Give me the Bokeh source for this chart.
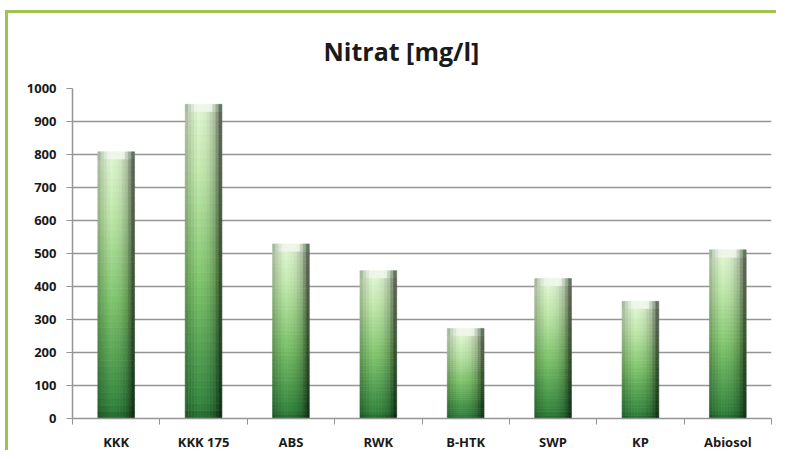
import numpy as np
from bokeh.plotting import figure
from bokeh.models import ColumnDataSource, FixedTicker, Range1d, CustomJSTickFormatter
from bokeh.embed import file_html
from bokeh.resources import INLINE

categories = ["KKK", "KKK 175", "ABS", "RWK", "B-HTK", "SWP", "KP", "Abiosol"]
values = [808, 952, 529, 448, 273, 424, 355, 511]
y_ticks = [0, 100, 200, 300, 400, 500, 600, 700, 800, 900, 1000]
title_text = "Nitrat [mg/l]"

BAR_W = 0.42
N_ROWS = 40
N_COLS = 12
BEVEL = 22  # data units of top bevel band

# vertical colour stops (t: 0 bottom -> 1 top)
v_stops_t = [0.0, 0.05, 0.45, 0.8, 1.0]
v_stops_c = np.array([(36, 98, 44), (50, 128, 60), (122, 188, 104), (185, 222, 165), (212, 234, 198)], dtype=float)
# horizontal brightness (s: 0 left -> 1 right)
h_stops_s = [0.0, 0.12, 0.35, 0.6, 0.8, 0.92, 1.0]
h_stops_m = [0.78, 0.9, 1.06, 1.0, 0.82, 0.55, 0.32]
# bevel band brightness
b_stops_s = [0.0, 0.15, 0.3, 0.7, 0.85, 1.0]
b_stops_c = np.array([(150, 170, 145), (205, 222, 198), (238, 246, 232), (238, 246, 232), (170, 188, 162), (70, 90, 68)], dtype=float)


def colour(t, s):
    base = np.array([np.interp(t, v_stops_t, v_stops_c[:, k]) for k in range(3)])
    m = np.interp(s, h_stops_s, h_stops_m)
    c = np.clip(base * m, 0, 255).astype(int)
    return "#%02x%02x%02x" % tuple(c)


def bevel_colour(s):
    c = np.array([np.interp(s, b_stops_s, b_stops_c[:, k]) for k in range(3)]).astype(int)
    return "#%02x%02x%02x" % tuple(c)


left, right, bottom, top, fill = [], [], [], [], []
for i, v in enumerate(values):
    cx = i + 0.5
    x0 = cx - BAR_W / 2
    body_top = v - BEVEL
    for r in range(N_ROWS):
        b = body_top * r / N_ROWS
        tp = body_top * (r + 1) / N_ROWS
        t = (r + 0.5) / N_ROWS
        for c in range(N_COLS):
            s = (c + 0.5) / N_COLS
            left.append(x0 + BAR_W * c / N_COLS)
            right.append(x0 + BAR_W * (c + 1) / N_COLS)
            bottom.append(b)
            top.append(tp)
            fill.append(colour(t, s))
    for c in range(N_COLS):
        s = (c + 0.5) / N_COLS
        left.append(x0 + BAR_W * c / N_COLS)
        right.append(x0 + BAR_W * (c + 1) / N_COLS)
        bottom.append(body_top)
        top.append(v)
        fill.append(bevel_colour(s))

src = ColumnDataSource(dict(left=left, right=right, bottom=bottom, top=top, fill=fill))

p = figure(width=771, height=440, output_backend="svg", toolbar_location=None,
           x_range=Range1d(0, len(categories)), y_range=Range1d(0, 1000),
           title=title_text, min_border_left=64, min_border_right=8,
           min_border_top=75, min_border_bottom=33)
p.styles = {"border-top": "3px solid #9dc44f", "border-left": "3px solid #9dc44f",
            "margin-top": "10px", "margin-left": "5px"}

p.quad(left="left", right="right", bottom="bottom", top="top", fill_color="fill",
       line_color="fill", line_width=0.6, source=src)

p.title.text_font = "Open Sans"
p.title.text_font_style = "bold"
p.title.text_font_size = "25px"
p.title.text_color = "#1a1a1a"
p.title.align = "left"
p.title.offset = 251
p.title.vertical_align = "top"
p.title.standoff = 38

p.outline_line_color = None
p.xgrid.visible = False
p.ygrid.grid_line_color = "#959595"
p.ygrid.grid_line_width = 1.5

p.yaxis.ticker = FixedTicker(ticks=y_ticks)
p.yaxis.axis_line_color = "#959595"
p.yaxis.axis_line_width = 1.5
p.yaxis.major_tick_line_color = "#959595"
p.yaxis.major_tick_out = 6
p.yaxis.major_tick_in = 0
p.yaxis.minor_tick_line_color = None
p.yaxis.major_label_standoff = 10

p.xaxis.ticker = FixedTicker(ticks=[i + 0.5 for i in range(len(categories))],
                             minor_ticks=list(range(len(categories) + 1)))
p.xaxis.formatter = CustomJSTickFormatter(args=dict(labels=categories), code="""
const i = Math.floor(tick);
if (i >= 0 && i < labels.length && Math.abs(tick - i - 0.5) < 1e-6) { return labels[i]; }
return "";
""")
p.xaxis.axis_line_color = "#959595"
p.xaxis.axis_line_width = 1.5
p.xaxis.major_tick_line_color = None
p.xaxis.major_tick_out = 6
p.xaxis.minor_tick_line_color = "#959595"
p.xaxis.minor_tick_out = 6
p.xaxis.minor_tick_in = 0
p.xaxis.major_label_standoff = 8

for ax in (p.xaxis, p.yaxis):
    ax.major_label_text_font = "Open Sans"
    ax.major_label_text_font_style = "bold"
    ax.major_label_text_font_size = "13px"
    ax.major_label_text_color = "#1a1a1a"

open("out.html", "w").write(file_html(p, INLINE))
